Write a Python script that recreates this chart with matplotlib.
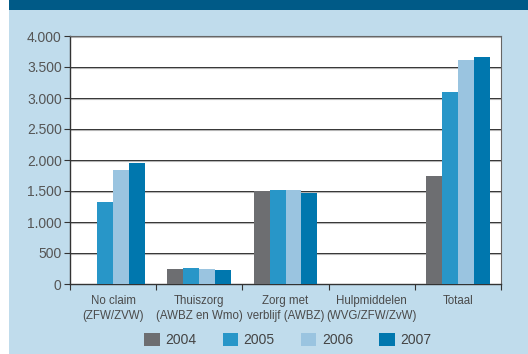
import numpy as np
import matplotlib
matplotlib.use('Agg')
import matplotlib.pyplot as plt
import matplotlib.transforms as mtransforms
from matplotlib.patches import Rectangle

categories = ['No claim\n(ZFW/ZVW)', 'Thuiszorg\n(AWBZ en Wmo)', 'Zorg met\nverblijf (AWBZ)',
              'Hulpmiddelen\n(WVG/ZFW/ZvW)', 'Totaal']
years = ['2004', '2005', '2006', '2007']
v2004 = [0, 247, 1495, 0, 1747]
v2005 = [1322, 263, 1516, 0, 3102]
v2006 = [1839, 247, 1516, 0, 3613]
v2007 = [1952, 226, 1468, 0, 3661]
colors = ['#6d6e71', '#2896c8', '#9ac4e0', '#0077ae']
yticks = [0, 500, 1000, 1500, 2000, 2500, 3000, 3500, 4000]

plt.rcParams['font.family'] = ['Liberation Sans', 'DejaVu Sans']
fig = plt.figure(figsize=(5.28, 3.54), dpi=100, facecolor='white')

# background panels
fig.patches.append(Rectangle((9 / 528, 0), 1, 1, transform=fig.transFigure,
                             facecolor='#c0dcec', edgecolor='none', zorder=-10))
fig.patches.append(Rectangle((9 / 528, 1 - 10 / 354), 1, 10 / 354, transform=fig.transFigure,
                             facecolor='#005a87', edgecolor='none', zorder=-9))

ax = fig.add_axes([70 / 528, 1 - 284 / 354, 431 / 528, 248 / 354])
ax.set_facecolor('white')

x = np.arange(len(categories))
w = 0.185
series = [v2004, v2005, v2006, v2007]
for i, vals in enumerate(series):
    ax.bar(x + (i - 1.5) * w, vals, width=w, color=colors[i], label=years[i], zorder=3)

# gridlines: dark line with grey shadow beneath
shadow = ax.transData + mtransforms.ScaledTranslation(0, -1.0 / 100, fig.dpi_scale_trans)
for t in yticks[1:]:
    ax.plot([-0.5, 4.5], [t, t], color='#b5b5b5', lw=0.8, transform=shadow, zorder=1)
    ax.axhline(t, color='#333333', lw=0.7, zorder=2)

ax.set_xlim(-0.5, 4.5)
ax.set_ylim(0, 4000)
ax.set_yticks(yticks)
ax.set_yticklabels([f'{t:,}'.replace(',', '.') for t in yticks])
ax.set_xticks(np.arange(-0.5, 5, 1))
ax.set_xticklabels([])
ax.set_xticks(x, minor=True)
ax.set_xticklabels(categories, minor=True, linespacing=1.3)
ax.tick_params(axis='x', which='minor', length=0, pad=8, labelsize=8.3, labelcolor='#4a4a4a')
ax.tick_params(axis='x', which='major', length=4, color='#333333', width=0.8)
ax.tick_params(axis='y', length=4, color='#333333', width=0.8, labelsize=10,
               labelcolor='#555555', pad=2)

for s in ['left', 'bottom']:
    ax.spines[s].set_color('#333333')
    ax.spines[s].set_linewidth(1)
for s in ['top', 'right']:
    ax.spines[s].set_color('#666666')
    ax.spines[s].set_linewidth(0.8)

fig.legend(loc='center', bbox_to_anchor=(0.545, 1 - 340 / 354), ncol=4, frameon=False,
           fontsize=10, handlelength=1.1, handleheight=1.1, handletextpad=0.4,
           columnspacing=1.9, labelcolor='#444444')

fig.savefig('out.png', dpi=100, facecolor=fig.get_facecolor())
